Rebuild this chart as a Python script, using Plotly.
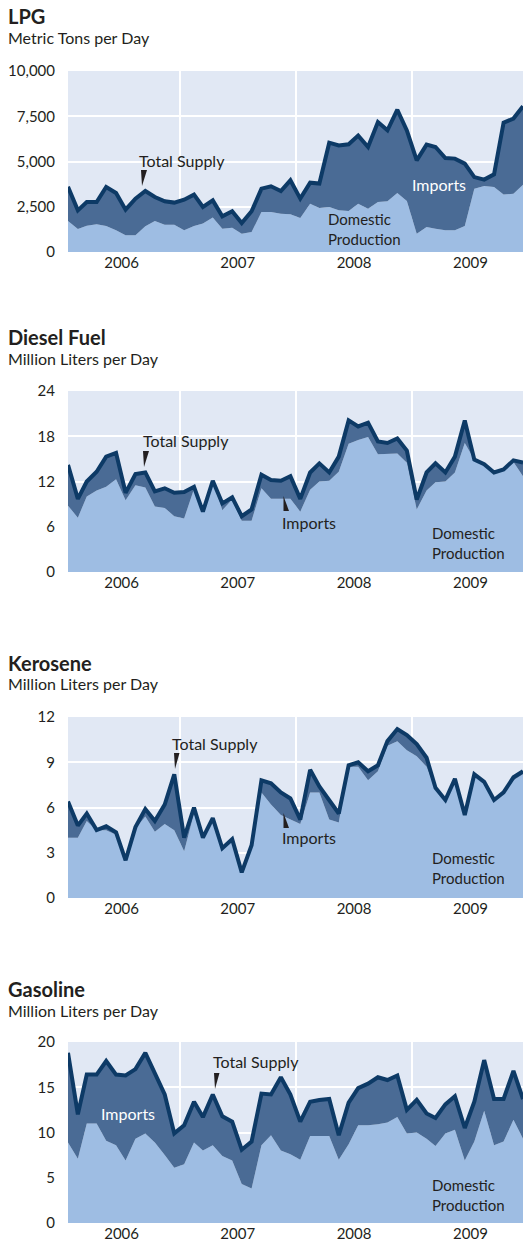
"""Approvisionnement en carburants : production intérieure + importations (4 panneaux)."""
import pandas as pd
import plotly.graph_objects as go
from plotly.subplots import make_subplots

W, H = 525, 1248

# mois (milieu de mois), jan 2006 -> déc 2009
months = pd.date_range('2006-01-01', periods=48, freq='MS') + pd.Timedelta(days=14)

lpg_total = [3600, 2300, 2760, 2760, 3590, 3260, 2340, 2950, 3370, 3040, 2800, 2730, 2890, 3170, 2490, 2850,
             1970, 2250, 1600, 2250, 3500, 3630, 3370, 3960, 2950, 3830, 3780, 6040, 5890, 5950, 6430, 5800,
             7180, 6720, 7860, 6720, 5060, 5930, 5800, 5190, 5160, 4880, 4140, 4000, 4290, 7150, 7370, 8050]
lpg_domestic = [1710, 1270, 1450, 1530, 1440, 1200, 920, 920, 1420, 1710, 1510, 1510, 1200, 1440, 1570, 1900,
                1290, 1340, 1010, 1100, 2210, 2210, 2120, 2080, 1880, 2670, 2430, 2490, 2300, 2270, 2670, 2390,
                2760, 2800, 3260, 2820, 1010, 1380, 1290, 1200, 1200, 1440, 3500, 3650, 3590, 3170, 3220, 3720]

diesel_total = [14.2, 9.7, 12.0, 13.3, 15.3, 15.8, 10.5, 13.0, 13.2, 10.7, 11.1, 10.5, 10.6, 11.3, 8.0, 12.1,
                9.1, 9.9, 7.4, 8.3, 12.9, 12.2, 12.1, 12.7, 9.7, 13.2, 14.4, 13.2, 15.3, 20.1, 19.3, 19.8,
                17.3, 17.1, 17.7, 16.1, 9.6, 13.2, 14.4, 13.2, 15.3, 20.1, 14.9, 14.3, 13.2, 13.6, 14.8, 14.5]
diesel_domestic = [8.8, 7.2, 10.0, 10.8, 11.3, 12.3, 9.5, 11.5, 11.2, 8.7, 8.5, 7.4, 7.1, 11.0, 8.0, 12.1,
                   8.2, 9.6, 6.8, 6.8, 11.1, 9.7, 9.7, 9.7, 8.0, 10.9, 12.0, 12.1, 13.3, 17.0, 17.5, 17.9,
                   15.6, 15.6, 15.7, 14.5, 8.3, 10.8, 11.9, 12.0, 13.2, 17.1, 14.9, 14.2, 13.2, 13.6, 14.6, 12.7]

kero_total = [6.4, 4.8, 5.6, 4.5, 4.75, 4.35, 2.5, 4.7, 5.9, 5.1, 6.2, 8.2, 4.0, 6.0, 4.0, 5.3,
              3.3, 3.9, 1.7, 3.5, 7.8, 7.6, 7.0, 6.6, 5.2, 8.5, 7.4, 6.5, 5.6, 8.8, 9.0, 8.4,
              8.8, 10.4, 11.2, 10.8, 10.2, 9.3, 7.3, 6.5, 7.9, 5.5, 8.2, 7.7, 6.5, 7.0, 8.0, 8.4]
kero_domestic = [4.0, 4.0, 5.1, 4.5, 4.5, 4.2, 2.5, 4.6, 5.4, 4.4, 4.9, 4.5, 3.1, 5.6, 4.0, 5.1,
                 3.25, 3.9, 1.7, 3.5, 7.0, 6.2, 5.5, 5.2, 4.9, 7.0, 7.0, 5.2, 5.0, 8.7, 8.7, 7.8,
                 8.4, 10.1, 10.4, 9.8, 9.4, 8.7, 7.2, 6.5, 7.85, 5.5, 8.2, 7.6, 6.5, 6.9, 7.8, 8.2]

gas_total = [18.8, 12.0, 16.4, 16.4, 17.9, 16.4, 16.3, 17.0, 18.8, 16.5, 14.2, 9.9, 10.8, 13.4, 11.7, 14.2,
             11.8, 11.2, 8.1, 9.0, 14.3, 14.2, 16.1, 14.2, 11.2, 13.4, 13.6, 13.7, 9.7, 13.3, 14.9, 15.4,
             16.1, 15.8, 16.3, 12.5, 13.6, 12.1, 11.6, 13.1, 14.0, 10.5, 13.4, 18.0, 13.7, 13.7, 16.8, 13.7]
gas_domestic = [8.9, 7.1, 11.0, 11.0, 9.1, 8.6, 6.9, 9.3, 9.9, 8.9, 7.5, 6.1, 6.5, 8.9, 8.0, 8.6,
                7.4, 6.9, 4.3, 3.8, 8.6, 9.7, 8.0, 7.6, 7.0, 9.6, 9.6, 9.6, 7.0, 8.7, 10.8, 10.8,
                10.9, 11.1, 11.7, 9.9, 10.0, 9.3, 8.5, 9.9, 10.3, 6.9, 9.0, 12.4, 8.6, 9.0, 11.4, 9.3]

titles = ['LPG', 'Diesel Fuel', 'Kerosene', 'Gasoline']
units = ['Metric Tons per Day', 'Million Liters per Day', 'Million Liters per Day', 'Million Liters per Day']
y_ticks = [[0, 2500, 5000, 7500, 10000], [0, 6, 12, 18, 24], [0, 3, 6, 9, 12], [0, 5, 10, 15, 20]]
totals = [lpg_total, diesel_total, kero_total, gas_total]
domestics = [lpg_domestic, diesel_domestic, kero_domestic, gas_domestic]

FONT = 'Lato'
TXT = '#231f20'
BG = '#e1e8f4'
C_DOM = '#9ebde3'
C_IMP = '#4a6b95'
C_LINE = '#0d3a66'

PLOT_TOP = [71, 391, 717, 1042]   # px
PLOT_H = 181
X0, X1 = 68, 523
TITLE_Y = [16, 337, 663, 989]
SUB_Y = [37, 358, 683, 1010]


def px(x): return x / W
def py(y): return 1 - y / H


def _label(fig, text, x, y, color=TXT, size=16, bold=False):
    fig.add_annotation(text=f'<b>{text}</b>' if bold else text, x=px(x), y=py(y), xref='paper', yref='paper',
                       xanchor='left', yanchor='middle', showarrow=False, align='left',
                       font=dict(family=FONT, size=size, color=color))


def _wedge(fig, pts):
    path = 'M ' + ' L '.join(f'{px(a):.5f},{py(b):.5f}' for a, b in pts) + ' Z'
    fig.add_shape(type='path', path=path, xref='paper', yref='paper', fillcolor=TXT, line=dict(width=0))


fig = make_subplots(rows=4, cols=1)
for i in range(4):
    r = i + 1
    fig.add_trace(go.Scatter(x=months, y=domestics[i], mode='lines', line=dict(width=0, color=C_DOM),
                             fill='tozeroy', fillcolor=C_DOM, hoverinfo='skip'), row=r, col=1)
    fig.add_trace(go.Scatter(x=months, y=totals[i], mode='lines', line=dict(width=4, color=C_LINE),
                             fill='tonexty', fillcolor=C_IMP), row=r, col=1)
    top = PLOT_TOP[i]
    fig.update_yaxes(row=r, col=1, domain=[py(top + PLOT_H), py(top)], range=[0, y_ticks[i][-1]],
                     tickvals=y_ticks[i], tickformat=',', showgrid=True, gridcolor='white', gridwidth=2,
                     zeroline=False, ticks='outside', ticklen=9, tickcolor='rgba(0,0,0,0)',
                     tickfont=dict(family=FONT, size=15, color=TXT), automargin=False)
    fig.update_xaxes(row=r, col=1, domain=[px(X0), px(X1)], type='date', range=[months[0], months[-1]],
                     tick0='2006-01-01', dtick='M12', ticklabelmode='period', tickformat='%Y',
                     showgrid=True, gridcolor='white', gridwidth=2, zeroline=False, ticks='',
                     tickfont=dict(family=FONT, size=15, color=TXT), automargin=False)
    _label(fig, titles[i], 6, TITLE_Y[i], size=20, bold=True)
    _label(fig, units[i], 6, SUB_Y[i], size=16)

# annotations dans les graphes
_label(fig, 'Total Supply', 137, 160)
_wedge(fig, [(141, 170), (147, 170), (142, 186)])
_label(fig, 'Imports', 410, 184, color='white')
_label(fig, 'Domestic<br>Production', 326, 229, size=15)

_label(fig, 'Total Supply', 141, 441)
_wedge(fig, [(143, 451), (149, 451), (144, 467)])
_label(fig, 'Imports', 280, 522)
_wedge(fig, [(283.5, 496), (283.5, 511), (289, 511)])
_label(fig, 'Domestic<br>Production', 430, 543, size=15)

_label(fig, 'Total Supply', 170, 743)
_wedge(fig, [(174, 753), (179.5, 753), (175, 769)])
_label(fig, 'Imports', 280, 838)
_wedge(fig, [(283.5, 813), (283.5, 828), (289, 828)])
_label(fig, 'Domestic<br>Production', 430, 868, size=15)

_label(fig, 'Total Supply', 211, 1061)
_wedge(fig, [(214, 1073), (219.5, 1073), (215, 1089)])
_label(fig, 'Imports', 99, 1113, color='white')
_label(fig, 'Domestic<br>Production', 430, 1195, size=15)

fig.update_layout(width=W, height=H, margin=dict(l=0, r=0, t=0, b=0), showlegend=False,
                  paper_bgcolor='white', plot_bgcolor=BG, font=dict(family=FONT, color=TXT))
fig.write_html('out.html', config={'displayModeBar': False},
               post_script="document.body.style.margin='0';"
                           "document.documentElement.style.overflow='hidden';")
